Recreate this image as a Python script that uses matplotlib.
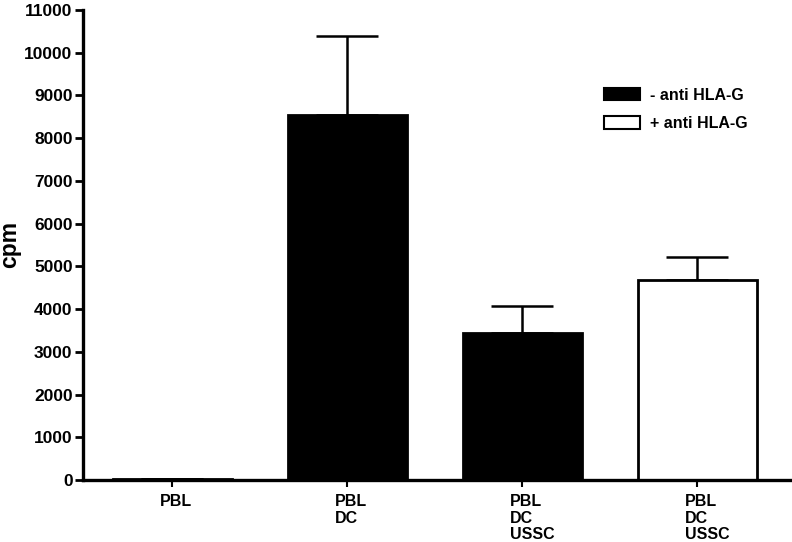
import matplotlib
matplotlib.use("Agg")
import matplotlib.pyplot as plt
import matplotlib.transforms as mtransforms
from matplotlib.patches import Patch

plt.rcParams['font.family'] = ['Liberation Sans', 'DejaVu Sans']
plt.rcParams['font.weight'] = 'bold'

# data
categories = ["PBL", "PBL\nDC", "PBL\nDC\nUSSC", "PBL\nDC\nUSSC"]
means = [30, 8550, 3450, 4680]
err_upper = [0, 1850, 620, 540]
anti_hla = [False, False, False, True]
yticks = list(range(0, 11001, 1000))

fig = plt.figure(figsize=(7.92, 5.42), dpi=100)
ax = fig.add_axes([0.1048, 0.1144, 0.8952, 0.8671])

x = list(range(len(categories)))
colors = ['white' if a else 'black' for a in anti_hla]
ax.bar(x, means, width=0.68, color=colors, edgecolor='black', linewidth=2, zorder=2)
ax.errorbar(x, means, yerr=[[0] * len(means), err_upper], fmt='none',
            ecolor='black', elinewidth=1.8, capsize=22, capthick=1.8, zorder=1)

ax.set_xlim(-0.51, 3.54)
ax.set_ylim(0, 11000)
ax.set_yticks(yticks)
ax.set_yticklabels([str(t) for t in yticks], fontsize=12.5, fontweight='bold')
ax.set_xticks(x)
ax.set_xticklabels([])

# category labels are left aligned, starting a little left of each tick
trans = mtransforms.blended_transform_factory(ax.transData, ax.transAxes)
for xi, lab in zip(x, categories):
    ax.text(xi - 0.07, -0.03, lab, transform=trans, ha='left', va='top',
            fontsize=11.5, fontweight='bold', linespacing=1.12, clip_on=False)

# y label placed by hand so it sits near the left edge like the original
fig.text(10 / 792, 1 - 244 / 542, "cpm", rotation=90, ha='center', va='center',
         fontsize=16.5, fontweight='bold')

for side in ['top', 'right']:
    ax.spines[side].set_visible(False)
for side in ['left', 'bottom']:
    ax.spines[side].set_linewidth(2.4)
ax.tick_params(axis='y', length=6, width=2, pad=1.5)
ax.tick_params(axis='x', length=5, width=1.5)

handles = [Patch(facecolor='black', edgecolor='black', linewidth=1.5),
           Patch(facecolor='white', edgecolor='black', linewidth=1.5)]
ax.legend(handles, ["- anti HLA-G", "+ anti HLA-G"], loc='upper left',
          bbox_to_anchor=(0.735, 0.835), frameon=False, fontsize=11.5,
          handlelength=2.25, handleheight=0.8, handletextpad=0.6, labelspacing=0.85,
          borderpad=0, borderaxespad=0)

fig.savefig("out.png", dpi=100)
